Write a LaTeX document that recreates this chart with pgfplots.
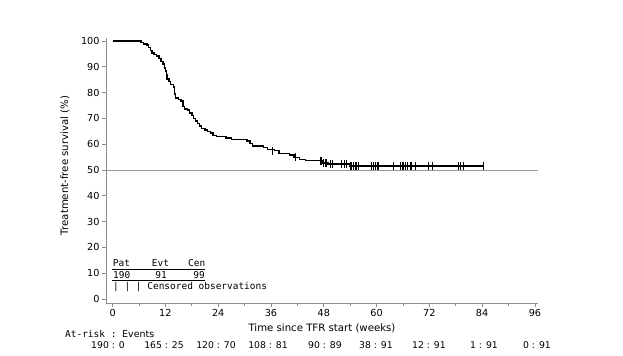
\documentclass[border=0pt]{standalone}
\usepackage{fontspec}
\setmainfont{DejaVu Sans}
\setmonofont{DejaVu Sans Mono}
\usepackage{pgfplots}
\pgfplotsset{compat=1.18}
\definecolor{axgray}{RGB}{140,140,140}
\definecolor{refgray}{RGB}{150,150,150}
\begin{document}
\begin{tikzpicture}
\useasboundingbox (0bp,0bp) rectangle (623bp,356bp);
\begin{axis}[
  at={(106bp,53bp)}, anchor=south west,
  scale only axis, width=432bp, height=264.6bp,
  xmin=-1.5, xmax=96.7, ymin=-1.55, ymax=101,
  axis lines*=left,
  axis line style={axgray, line width=0.8bp},
  xtick={0,12,...,96}, minor xtick={6,18,...,90},
  ytick={0,10,...,100},
  tick align=outside,
  major tick length=4bp, minor tick length=3bp,
  tick style={axgray, line width=0.8bp},
  /pgf/number format/assume math mode=true,
  tick label style={font=\fontsize{9.7}{11}\selectfont, text=black},
  xticklabel style={yshift=1bp},
  yticklabel style={xshift=1bp},
  xlabel={Time since TFR start (weeks)},
  ylabel={Treatment-free survival (\%)},
  label style={font=\fontsize{10.2}{12}\selectfont},
  xlabel style={at={(axis description cs:0.5,-0.066)}, anchor=north},
  ylabel style={at={(axis description cs:-0.095,0.52)}, anchor=center},
  clip=false,
]
\addplot[refgray, line width=0.8bp] coordinates {(-1.5,50) (96.7,50)};
\addplot[black, line width=1.5bp, const plot] coordinates {
(0,100) (6.5,99.5) (7.0,98.9) (7.8,98.4) (8.2,97.4) (8.6,96.3) (9.0,95.3)
(9.4,94.7) (10.0,94.2) (10.6,93.2) (11.0,92.1) (11.5,91.0) (11.8,89.5)
(12.0,88.4) (12.2,86.8) (12.4,85.3) (12.8,84.2) (13.2,83.2) (13.8,82.1)
(14.1,79.5) (14.3,77.9) (15.0,77.4) (15.6,76.8) (16.0,74.7) (16.3,73.7)
(17.0,73.2) (17.5,72.1) (18.0,71.1) (18.4,70.0) (18.8,69.0) (19.3,68.0)
(19.8,67.0) (20.2,66.0) (21.0,65.5) (21.6,64.9) (22.2,64.4) (22.8,63.4)
(23.6,62.9) (25.8,62.4) (27.0,61.9) (30.5,61.3) (31.2,60.3) (31.8,59.2)
(34.3,58.7) (35.2,58.0) (36.8,57.5) (37.8,56.4) (40.2,55.9) (41.2,54.9)
(42.5,54.0) (43.8,53.6) (47.8,52.7) (49.0,52.3) (53.9,51.6) (84.3,51.6)
};
\addplot[black, only marks, mark=|, mark size=4bp, line width=0.7bp] coordinates {
(36.2,57.5) (41.5,54.9)
(47.2,53.6) (47.5,53.6) (47.9,52.7) (48.3,52.7) (48.7,52.7)
(49.4,52.3) (50.0,52.3) (52.1,52.3) (52.6,52.3) (53.2,52.3)
(53.95,51.6) (54.3,51.6) (54.7,51.6) (55.1,51.6) (55.5,51.6) (55.9,51.6)
(58.9,51.6) (59.3,51.6) (59.7,51.6) (60.1,51.6) (60.5,51.6)
(63.9,51.6) (65.4,51.6) (65.8,51.6) (66.2,51.6) (66.5,51.6) (66.9,51.6)
(67.7,51.6) (68.0,51.6) (68.8,51.6) (71.8,51.6) (72.6,51.6)
(78.6,51.6) (79.0,51.6) (79.8,51.6) (84.3,51.6)
};
\end{axis}
% legend block (text)
\begin{scope}[every node/.style={font=\ttfamily\fontsize{9.5}{11}\selectfont, inner sep=0pt}]
\node[anchor=base west] at (112.7bp,89.3bp) {Pat};
\node[anchor=base west] at (151.7bp,89.3bp) {Evt};
\node[anchor=base west] at (188bp,89.3bp) {Cen};
\draw[black, line width=0.8bp] (111.7bp,86.7bp) -- (205bp,86.7bp);
\node[anchor=base west] at (113bp,77.7bp) {190};
\node[anchor=base east] at (167bp,77.7bp) {91};
\node[anchor=base east] at (205bp,77.7bp) {99};
\draw[black, line width=0.8bp] (111.7bp,75.3bp) -- (205bp,75.3bp);
\node[anchor=base west] at (113bp,66.7bp) {| | | Censored observations};
\node[anchor=base west] at (65bp,18.7bp) {At-risk : \rmfamily Events};
\end{scope}
\begin{scope}[every node/.style={font=\fontsize{9.3}{11}\selectfont, inner sep=0pt}]
\node[anchor=base] at (108bp,7.5bp) {190 : 0};
\node[anchor=base] at (164bp,7.5bp) {165 : 25};
\node[anchor=base] at (216bp,7.5bp) {120 : 70};
\node[anchor=base] at (268bp,7.5bp) {108 : 81};
\node[anchor=base] at (325bp,7.5bp) {90 : 89};
\node[anchor=base] at (376bp,7.5bp) {38 : 91};
\node[anchor=base] at (429bp,7.5bp) {12 : 91};
\node[anchor=base] at (484bp,7.5bp) {1 : 91};
\node[anchor=base] at (537bp,7.5bp) {0 : 91};
\end{scope}
\end{tikzpicture}
\end{document}
